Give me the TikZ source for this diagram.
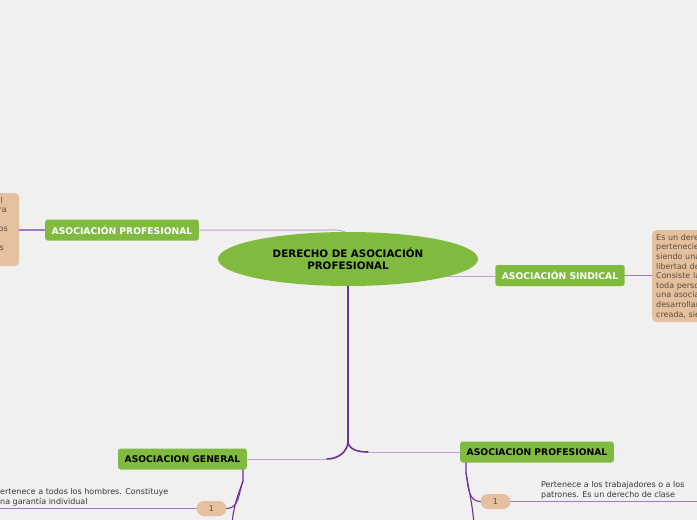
\documentclass[tikz,border=0pt]{standalone}
\usepackage{fontspec}
\setmainfont{DejaVu Sans}
\usetikzlibrary{positioning,shapes.geometric}
\definecolor{mapbg}{RGB}{240,240,240}
\definecolor{leafgreen}{RGB}{128,187,64}
\definecolor{peach}{RGB}{228,192,158}
\definecolor{trunkviolet}{RGB}{108,48,150}
\definecolor{twigviolet}{RGB}{192,163,214}
\definecolor{linkviolet}{RGB}{160,120,200}
\definecolor{notetext}{RGB}{95,75,60}
\definecolor{leaftext}{RGB}{55,55,55}

\begin{document}
\begin{tikzpicture}[x=1pt, y=-1pt, line cap=round,
    topic/.style={fill=leafgreen, rounded corners=2.5pt, minimum height=21pt,
      inner xsep=6.5pt, font=\bfseries\fontsize{9.2}{10}\selectfont},
    pill/.style={fill=peach, rounded corners=7.5pt, minimum width=30pt,
      minimum height=15pt, inner sep=0pt, text=notetext, font=\fontsize{8}{9}\selectfont},
    notebox/.style={fill=peach, rounded corners=4pt},
    small/.style={font=\fontsize{8}{9.6}\selectfont, inner sep=0pt},
    twig/.style={twigviolet, line width=1pt},
    link/.style={linkviolet, line width=1.3pt},
    trunk/.style={trunkviolet, line width=1.6pt}]

  % canvas
  \useasboundingbox (0,0) rectangle (697,520);
  \fill[mapbg] (0,0) rectangle (697,520);

  % centre
  \node[ellipse, fill=leafgreen, minimum width=260pt, minimum height=54pt, align=center,
    font=\bfseries\fontsize{10.3}{12}\selectfont] (hub) at (348,259) {DERECHO DE ASOCIACIÓN\\PROFESIONAL};

  % main topics
  \node[topic, text=white] (asocprof) at (122,230) {ASOCIACIÓN PROFESIONAL};
  \node[topic, text=white] (sindical) at (560,275.5) {ASOCIACIÓN SINDICAL};
  \node[topic] (general) at (182.5,459) {ASOCIACION GENERAL};
  \node[topic] (profclase) at (537,452) {ASOCIACION PROFESIONAL};

  % notes cut by the edges
  \node[notebox, minimum width=60pt, minimum height=73pt] (leftnote) at (-11,229.5) {};
  \foreach \t/\x/\y [count=\i] in {l/3/200, ra/7/210, os/8/229, s/4/248}
    \node[small, text=notetext, anchor=east] (lfrag\i) at (\x,\y) {\t};
  \node[notebox, small, inner sep=4pt, anchor=north west, text width=80pt, align=left,
    text=notetext] (rightnote) at (652,230)
    {Es un dere\\pertenecie\\siendo una\\libertad de\\Consiste la\\toda perso\\una asocia\\desarrollar\\creada, sie};

  % connectors
  \draw[twig] (asocprof.east) -- ++(128,0) to[out=0,in=160] (hub.97);
  \draw[twig] (hub.-10) -- (hub.-10 -| sindical.west);
  \draw[link] (leftnote.east |- asocprof.west) -- (asocprof.west);
  \draw[link] (sindical.east) -- (sindical.east -| rightnote.west);

  % trunk down to the lower topics
  \coordinate (fork) at (348,441);
  \draw[trunk] (hub.south) -- (fork);
  \draw[trunk] (fork) to[out=-90,in=0] ++(-21,18) coordinate (forkl);
  \draw[twig] (forkl) -- (general.east);
  \draw[trunk] (fork) to[out=-90,in=180] ++(20,11) coordinate (forkr);
  \draw[twig] (forkr) -- (profclase.west);

  % leaves of ASOCIACION GENERAL
  \node[pill] (genone) at (211.5,508.5) {1};
  \coordinate (genknot) at (243,481);
  \coordinate (genmore) at (232,524);
  \coordinate (genedge) at (-2,508.5);
  \draw[trunk, line width=1.1pt] (general.south -| genknot) -- (genknot) to[out=-110,in=0] (genone.east);
  \draw[trunk, line width=1.1pt] (genknot) to[out=-110,in=85] (genmore);
  \draw[link] (genone.west) -- (genedge);
  \node[small, text=leaftext, anchor=south west, align=left] (gentext) at (0,506)
    {ertenece a todos los hombres. Constituye\\na garantía individual};

  % leaves of ASOCIACION PROFESIONAL
  \node[pill] (profone) at (495.5,501.5) {1};
  \coordinate (profknot) at (466,473);
  \coordinate (profmore) at (474,524);
  \coordinate (profedge) at (699,501.5);
  \draw[trunk, line width=1.1pt] (profclase.south -| profknot) -- (profknot) to[out=-80,in=180] (profone.west);
  \draw[trunk, line width=1.1pt] (profknot) to[out=-80,in=95] (profmore);
  \draw[link] (profone.east) -- (profedge);
  \node[small, text=leaftext, anchor=south west, align=left] (proftext) at (541,499)
    {Pertenece a los trabajadores o a los\\patrones. Es un derecho de clase};
\end{tikzpicture}
\end{document}
